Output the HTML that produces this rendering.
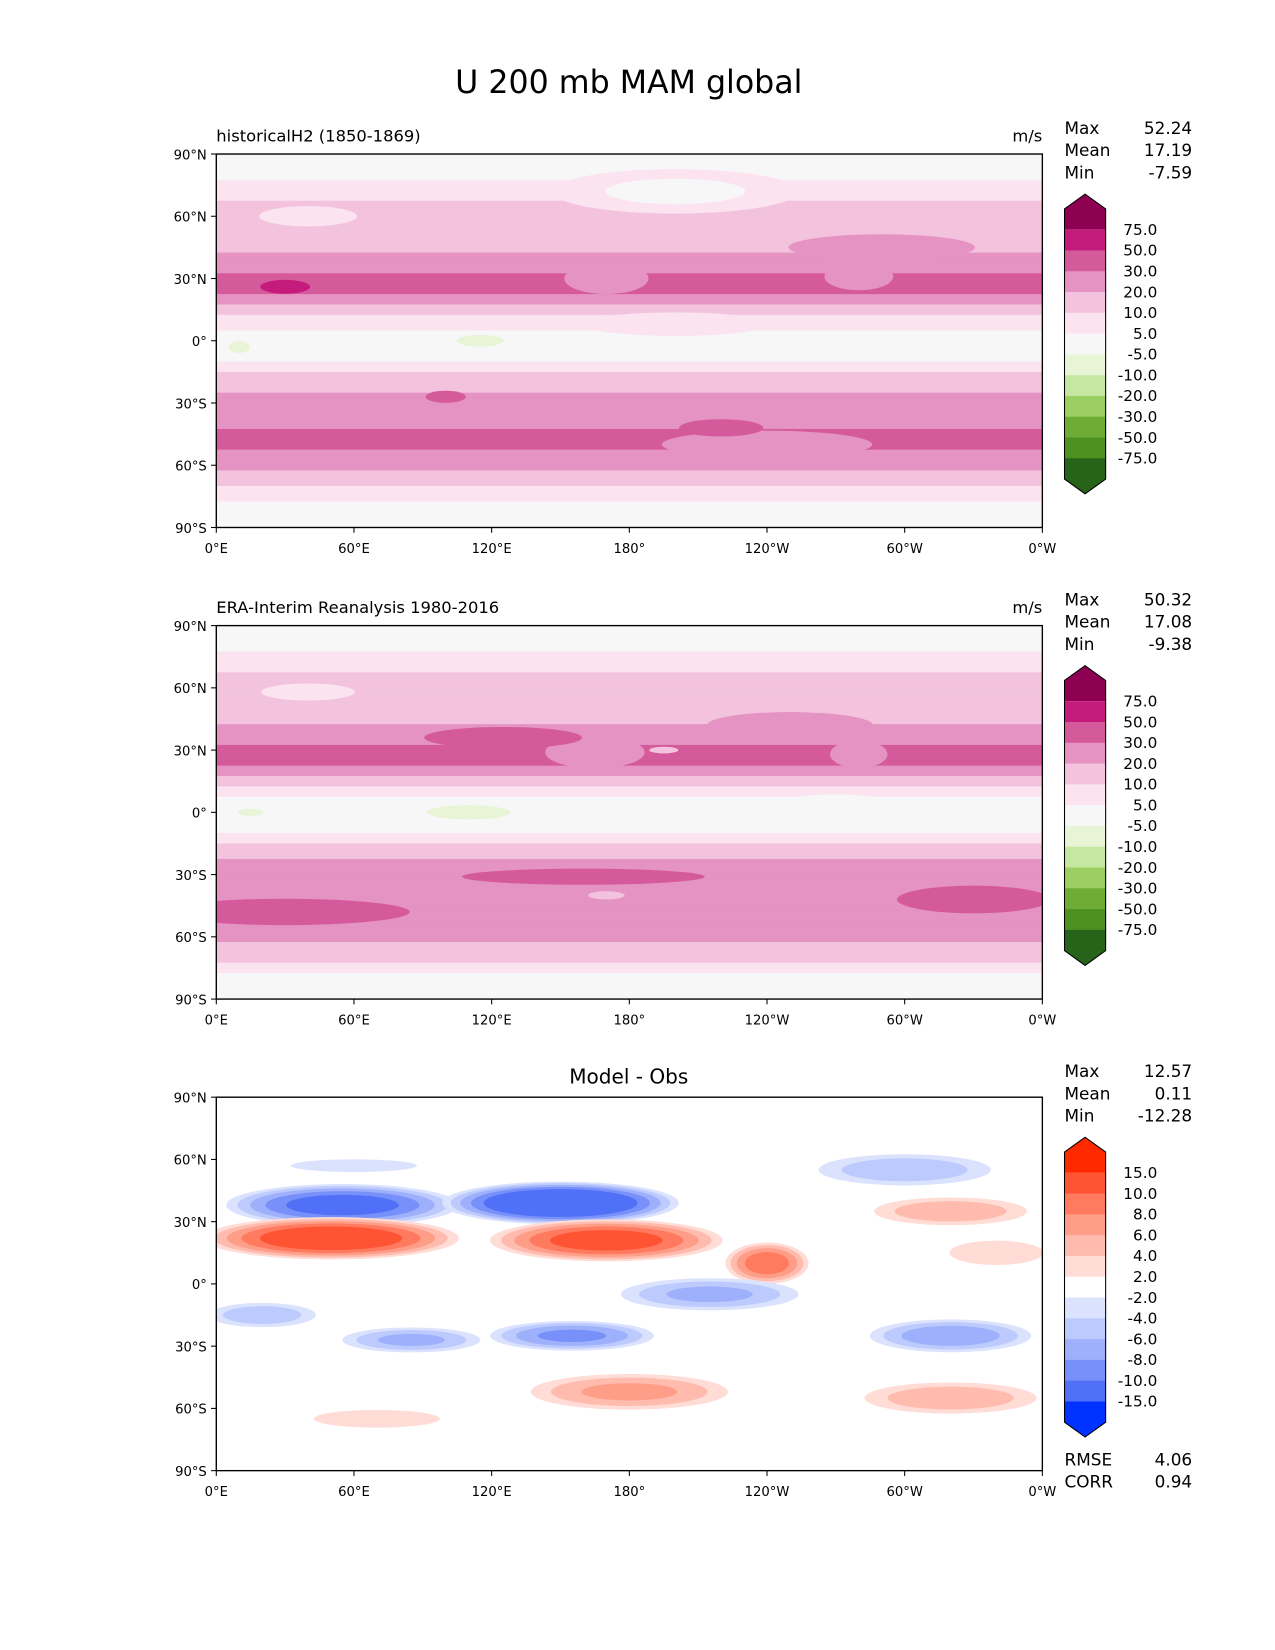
<!DOCTYPE html>
<html><head><meta charset="utf-8"><style>
html,body{margin:0;padding:0;background:#fff;}
svg{display:block;font-family:"DejaVu Sans","Liberation Sans",sans-serif;}
</style></head><body>
<svg id="fig" width="1275" height="1650" viewBox="0 0 1208.5 1564" xmlns="http://www.w3.org/2000/svg">
<rect width="1208.5" height="1564" fill="#fff"/>
<text x="596" y="88" font-size="30" text-anchor="middle">U 200 mb MAM global</text>
</svg>
<script>
// ---- data ----
const latNodes = [90,85,80,75,70,65,60,55,50,45,40,35,30,25,20,15,10,5,0,-5,-10,-15,-20,-25,-30,-35,-40,-45,-50,-55,-60,-65,-70,-75,-80,-85,-90];
const p1Zonal = [1,2,4,6,8,12,14,15,16,18,22,26,33,33,26,15,8,4,0,2,5,10,15,20,22,24,26,33,33,28,22,15,10,7,4,2,1];
const p2Zonal = [1,2,4,7,9,12,14,15,16,18,22,28,33,33,24,14,7,3,0,2,5,11,15,22,24,25,26,28,30,28,24,16,12,7,4,2,1];
const p3Zonal = [0,0,0,0,0,0,-1,-1,-1,0,0,0,0,0,1,1,0,0,0,0,0,0,0,0,0,0,0,0,0,0,0,0,0,0,0,0,0];
// blobs: lon, lat, half-width (deg), half-height (deg), peak value, base value
const p1Lon  = [170,280,30,130,290,200,10,115,200,240,220,100,230,40];
const p1Lat  = [30,31,26,43,45,72,-3,0,8,-50,-42,-27,-22,60];
const p1Rx   = [22,18,13,55,45,60,8,18,50,55,22,12,45,35];
const p1Ry   = [9,8,4,6,7,12,5,5,7,8,5,4,7,8];
const p1Peak = [24,24,60,28,28,3,-7,-7,10,24,38,38,12,8];
const p1Base = [33,33,45,20,18,12,0,0,2,33,26,22,20,14];
const p2Lon  = [165,280,125,120,250,195,15,110,270,160,30,330,180,170,40];
const p2Lat  = [29,28,36,42,42,30,0,0,5,-31,-48,-42,-50,-40,58];
const p2Rx   = [25,15,40,50,40,8,10,32,30,68,60,40,60,12,30];
const p2Ry   = [9,8,6,6,7,2,3,6,5,5,7,8,6,3,6];
const p2Peak = [22,24,40,26,28,14,-7,-7,2,38,38,38,24,16,7];
const p2Base = [33,33,26,20,18,24,0,0,8,24,28,26,30,26,14];
const p3Lon  = [55,150,50,170,240,215,20,85,155,320,180,320,70,300,320,340,60];
const p3Lat  = [38,39,22,21,10,-5,-15,-27,-25,-25,-52,-55,-65,55,35,15,57];
const p3Rx   = [55,55,60,55,20,45,28,35,40,40,50,45,45,45,40,28,45];
const p3Ry   = [11,11,11,11,11,9,7,7,8,9,10,9,7,9,8,8,5];
const p3Peak = [-12,-15,13,12,10,-7,-6,-7,-9,-8,7,6,3,-6,6,4,-3];
const p3Base = [0,0,0,0,0,0,0,0,0,0,0,0,0,0,0,0,0];
const absLevels = [-75,-50,-30,-20,-10,-5,5,10,20,30,50,75];
const absColors = ["#276419","#4d9221","#6fac35","#9ccf62","#c6e7a0","#e8f4d6","#f7f7f7","#fbe3f0","#f3c3de","#e593c2","#d55a9c","#c51b7d","#8e0152"];
const difLevels = [-15,-10,-8,-6,-4,-2,2,4,6,8,10,15];
const difColors = ["#0033ff","#4f70f7","#7890fa","#9eb0fb","#bccafd","#dbe2fe","#ffffff","#ffdcd6","#ffbcae","#ff9e88","#ff7a5e","#ff5433","#ff2a00"];
const stats1 = ["52.24","17.19","-7.59"];
const stats2 = ["50.32","17.08","-9.38"];
const stats3 = ["12.57","0.11","-12.28"];
const lonTicks = [0,60,120,180,240,300,360];
const lonLabels = ["0°E","60°E","120°E","180°","120°W","60°W","0°W"];
const latTicks = [90,60,30,0,-30,-60,-90];
const latLabels = ["90°N","60°N","30°N","0°","30°S","60°S","90°S"];

const NS = "http://www.w3.org/2000/svg";
const svg = document.getElementById('fig');
function mk(tag, attrs, parent){const e=document.createElementNS(NS,tag);for(const k in attrs)e.setAttribute(k,attrs[k]);(parent||svg).appendChild(e);return e;}
const X0=205, X1=988, H=354;
function xs(lon){return X0+lon/360*(X1-X0);}
function ys(T,lat){return T+(90-lat)/180*H;}
function colorFor(v,levels,colors){let i=0;while(i<levels.length&&v>=levels[i])i++;return colors[i];}

function drawPanel(T, idx, zonal, bl, bt, brx, bry, bpk, bbs, levels, colors){
  const clipId='clip'+idx;
  const cp=mk('clipPath',{id:clipId});
  mk('rect',{x:X0,y:T,width:X1-X0,height:H},cp);
  const g=mk('g',{'clip-path':'url(#'+clipId+')'});
  
  
  for(let lat=90;lat>-90;lat-=2.5){
    const c=lat-1.25;const i=(90-c)/5;const i0=Math.floor(i),f=i-i0;
    const v=zonal[i0]*(1-f)+zonal[Math.min(i0+1,36)]*f;
    const r=mk('rect',{x:X0,y:ys(T,lat),width:X1-X0,height:H/72+0.6,fill:colorFor(v,levels,colors)},g);
    
    
  }
  for(let b=0;b<bl.length;b++){
    const pk=bpk[b],bs=bbs[b];
    const inner=levels.filter(L=>(pk>bs)?(L>bs&&L<pk):(L<bs&&L>pk));
    if(pk<bs)inner.reverse();
    inner.forEach(L=>{
      const s=Math.pow((pk-L)/(pk-bs),0.45);
      const col=(pk>bs)?colorFor(L+0.001,levels,colors):colorFor(L-0.001,levels,colors);
      const e=mk('ellipse',{cx:xs(bl[b]),cy:ys(T,bt[b]),rx:brx[b]/360*(X1-X0)*s,ry:bry[b]/180*H*s,fill:col},g);
      
      
    });
  }
  const fr=mk('rect',{x:X0,y:T,width:X1-X0,height:H,fill:'none',stroke:'#000','stroke-width':1.3});
  
  
  lonTicks.forEach((lon,i)=>{
    mk('line',{x1:xs(lon),x2:xs(lon),y1:T+H,y2:T+H+5,stroke:'#000'});
    const t=mk('text',{x:xs(lon),y:T+H+24,'font-size':12.5,'text-anchor':'middle'});
    t.textContent=lonLabels[i];
    
    
  });
  latTicks.forEach((lat,i)=>{
    mk('line',{x1:X0-5,x2:X0,y1:ys(T,lat),y2:ys(T,lat),stroke:'#000'});
    const t=mk('text',{x:X0-9,y:ys(T,lat)+5,'font-size':12.5,'text-anchor':'end'});
    t.textContent=latLabels[i];
    
    
  });
}

function drawColorbar(T, idx, levels, colors){
  const x=1009,w=39,top=T+52,step=19.7;
  const g=mk('g',{});
  
  
  const n=colors.length;
  for(let i=0;i<n;i++){
    const c=colors[n-1-i];
    const y=top+i*step;
    if(i===0){mk('polygon',{points:`${x},${y+step} ${x},${y} ${x+w/2},${y-14} ${x+w},${y} ${x+w},${y+step}`,fill:c},g);}
    else if(i===n-1){mk('polygon',{points:`${x},${y} ${x},${y+step} ${x+w/2},${y+step+14} ${x+w},${y+step} ${x+w},${y}`,fill:c},g);}
    else mk('rect',{x:x,y:y,width:w,height:step+0.3,fill:c},g);
  }
  const yb=top+n*step;
  mk('polygon',{points:`${x},${top} ${x+w/2},${top-14} ${x+w},${top} ${x+w},${yb} ${x+w/2},${yb+14} ${x},${yb}`,fill:'none',stroke:'#000','stroke-width':1},g);
  for(let j=0;j<levels.length;j++){
    const L=levels[levels.length-1-j];
    const y=top+(j+1)*step;
    const t=mk('text',{x:1097,y:y+5,'font-size':14.5,'text-anchor':'end'},g);
    t.textContent=L.toFixed(1);
    
    
  }
}
function drawStats(T, idx, vals){
  const names=["Max","Mean","Min"];
  names.forEach((nm,i)=>{
    const y=T-19+i*21;
    const a=mk('text',{x:1009,y:y,'font-size':16});a.textContent=nm;
    
    
    const b=mk('text',{x:1130,y:y,'font-size':16,'text-anchor':'end'});b.textContent=vals[i];
    
    
  });
}
function label(x,y,txt,size,anchor,name){const t=mk('text',{x:x,y:y,'font-size':size,'text-anchor':anchor});t.textContent=txt;
  
  }

drawPanel(146,1,p1Zonal,p1Lon,p1Lat,p1Rx,p1Ry,p1Peak,p1Base,absLevels,absColors);
drawPanel(593,2,p2Zonal,p2Lon,p2Lat,p2Rx,p2Ry,p2Peak,p2Base,absLevels,absColors);
drawPanel(1040,3,p3Zonal,p3Lon,p3Lat,p3Rx,p3Ry,p3Peak,p3Base,difLevels,difColors);
drawColorbar(146,1,absLevels,absColors);
drawColorbar(593,2,absLevels,absColors);
drawColorbar(1040,3,difLevels,difColors);
drawStats(146,1,stats1);drawStats(593,2,stats2);drawStats(1040,3,stats3);
label(205,134,"historicalH2 (1850-1869)",15.5,"start","panel1-title");
label(988,134,"m/s",15.5,"end","panel1-units");
label(205,581,"ERA-Interim Reanalysis 1980-2016",15.5,"start","panel2-title");
label(988,581,"m/s",15.5,"end","panel2-units");
label(596,1027,"Model - Obs",19,"middle","panel3-title");
label(1009,1389,"RMSE",16,"start","rmse-label");
label(1130,1389,"4.06",16,"end","rmse-value");
label(1009,1410,"CORR",16,"start","corr-label");
label(1130,1410,"0.94",16,"end","corr-value");
</script>
</body></html>
